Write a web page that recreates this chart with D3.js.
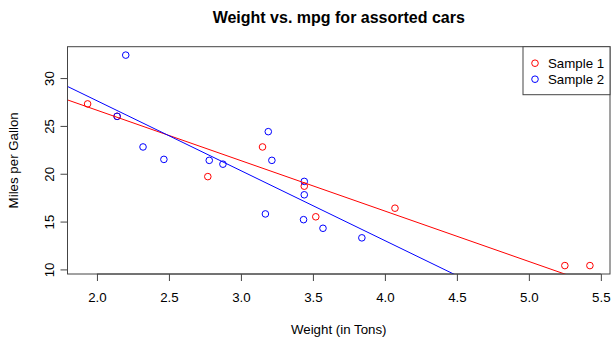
<!DOCTYPE html>
<html>
<head>
<meta charset="utf-8">
<script src="https://cdn.jsdelivr.net/npm/d3@7"></script>
<style>
  body { margin: 0; background: #fff; }
  text { font-family: "Liberation Sans", Arial, sans-serif; fill: #000; }
</style>
</head>
<body>
<script>
// sample 1 (red) - weight in tons, mpg
var wt1 = [1.935, 2.14, 2.77, 3.15, 3.44, 3.52, 4.07, 5.25, 5.424];
var mpg1 = [27.3, 26.0, 19.7, 22.8, 18.7, 15.5, 16.4, 10.4, 10.4];
// sample 2 (blue)
var wt2 = [2.2, 2.14, 2.32, 2.465, 2.78, 2.875, 3.19, 3.215, 3.17, 3.44, 3.44, 3.435, 3.57, 3.84];
var mpg2 = [32.4, 26.0, 22.8, 21.5, 21.4, 21.0, 24.4, 21.4, 15.8, 19.2, 17.8, 15.2, 14.3, 13.3];
// fitted lines, [intercept, slope]
var fit1 = [37.18, -5.27];
var fit2 = [42.25, -7.31];
var xTicks = [2.0, 2.5, 3.0, 3.5, 4.0, 4.5, 5.0, 5.5];
var yTicks = [10, 15, 20, 25, 30];
var seriesNames = ["Sample 1", "Sample 2"];
var colors = ["#ff0000", "#0000ff"];

var width = 611, height = 337;
var margin = {top: 46.7, right: 1, bottom: 63, left: 67.5};
var fs = "13.3px";

// R style axis ranges: data extent padded by 4%
function pad(ext) {
  var d = (ext[1] - ext[0]) * 0.04;
  return [ext[0] - d, ext[1] + d];
}
var allX = wt1.concat(wt2), allY = mpg1.concat(mpg2);

var x = d3.scaleLinear()
  .domain(pad(d3.extent(allX)))
  .range([margin.left, width - margin.right]);
var y = d3.scaleLinear()
  .domain(pad(d3.extent(allY)))
  .range([height - margin.bottom, margin.top]);

var svg = d3.select("body").append("svg")
  .attr("width", width)
  .attr("height", height);

var axisColor = "#444";
var x0 = x.range()[0], x1 = x.range()[1];
var y0 = y.range()[0], y1 = y.range()[1];

// title
svg.append("text")
  .attr("x", (x0 + x1) / 2)
  .attr("y", 23)
  .attr("text-anchor", "middle")
  .style("font-size", "16px")
  .style("font-weight", "bold")
  .text("Weight vs. mpg for assorted cars");

// x axis
var xAxis = svg.append("g")
  .attr("transform", "translate(0," + y0 + ")")
  .call(d3.axisBottom(x).tickValues(xTicks).tickFormat(d3.format(".1f")).tickSizeOuter(0).tickSizeInner(7).tickPadding(12));
xAxis.select(".domain").remove();
xAxis.selectAll("line").attr("stroke", axisColor);
xAxis.selectAll("text").style("font-size", fs).style("font-family", "Liberation Sans, Arial, sans-serif").attr("fill", "#000");

// y axis (labels rotated like R)
var yAxis = svg.append("g")
  .attr("transform", "translate(" + x0 + ",0)")
  .call(d3.axisLeft(y).tickValues(yTicks).tickSizeOuter(0).tickSizeInner(7));
yAxis.select(".domain").remove();
yAxis.selectAll("line").attr("stroke", axisColor);
yAxis.selectAll("text")
  .style("font-size", fs)
  .style("font-family", "Liberation Sans, Arial, sans-serif")
  .attr("fill", "#000")
  .attr("x", 0).attr("dy", null)
  .attr("text-anchor", "middle")
  .attr("transform", "translate(-18,0) rotate(-90)")
  .attr("y", 4);

// axis lines from first to last tick
svg.append("line")
  .attr("x1", x(xTicks[0])).attr("x2", x(xTicks[xTicks.length - 1]))
  .attr("y1", y0).attr("y2", y0).attr("stroke", axisColor);
svg.append("line")
  .attr("y1", y(yTicks[0])).attr("y2", y(yTicks[yTicks.length - 1]))
  .attr("x1", x0).attr("x2", x0).attr("stroke", axisColor);

// axis titles
svg.append("text")
  .attr("x", (x0 + x1) / 2)
  .attr("y", 334)
  .attr("text-anchor", "middle")
  .style("font-size", fs)
  .text("Weight (in Tons)");
svg.append("text")
  .attr("transform", "translate(18," + ((y0 + y1) / 2) + ") rotate(-90)")
  .attr("text-anchor", "middle")
  .style("font-size", fs)
  .text("Miles per Gallon");

// clip for fit lines
svg.append("clipPath").attr("id", "plotclip")
  .append("rect")
  .attr("x", x0).attr("y", y1)
  .attr("width", x1 - x0).attr("height", y0 - y1);

var samples = [
  {x: wt1, y: mpg1, fit: fit1},
  {x: wt2, y: mpg2, fit: fit2}
];

samples.forEach(function(s, i) {
  var g = svg.append("g");
  g.selectAll("circle")
    .data(d3.zip(s.x, s.y))
    .enter().append("circle")
    .attr("cx", function(d) { return x(d[0]); })
    .attr("cy", function(d) { return y(d[1]); })
    .attr("r", 3.3)
    .attr("fill", "none")
    .attr("stroke", colors[i])
    .attr("stroke-width", 1);
});

samples.forEach(function(s, i) {
  var xd = x.domain();
  svg.append("line")
    .attr("clip-path", "url(#plotclip)")
    .attr("x1", x(xd[0])).attr("y1", y(s.fit[0] + s.fit[1] * xd[0]))
    .attr("x2", x(xd[1])).attr("y2", y(s.fit[0] + s.fit[1] * xd[1]))
    .attr("stroke", colors[i])
    .attr("stroke-width", 1);
});

// plot box
svg.append("rect")
  .attr("x", x0).attr("y", y1)
  .attr("width", x1 - x0).attr("height", y0 - y1)
  .attr("fill", "none")
  .attr("stroke", axisColor);

// legend, top right
var lw = 87, lh = 48;
var legend = svg.append("g")
  .attr("transform", "translate(" + (x1 - lw) + "," + y1 + ")");
legend.append("rect")
  .attr("width", lw).attr("height", lh)
  .attr("fill", "#fff")
  .attr("stroke", axisColor);
seriesNames.forEach(function(name, i) {
  legend.append("circle")
    .attr("cx", 12).attr("cy", 16.5 + i * 16)
    .attr("r", 3.3)
    .attr("fill", "none")
    .attr("stroke", colors[i]);
  legend.append("text")
    .attr("x", 25).attr("y", 21.5 + i * 16)
    .style("font-size", fs)
    .text(name);
});
</script>
</body>
</html>
